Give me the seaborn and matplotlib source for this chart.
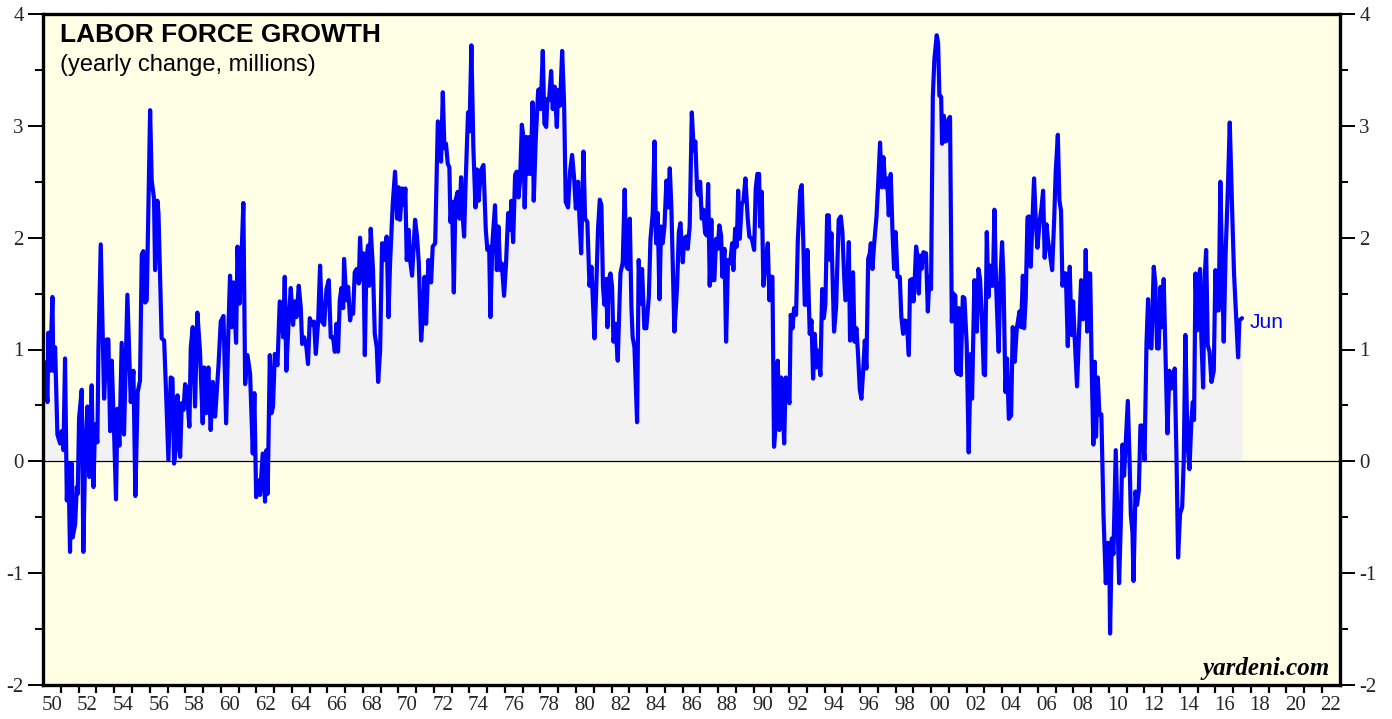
import matplotlib
matplotlib.use("Agg")
import matplotlib.pyplot as plt
import matplotlib.ticker as mticker
import numpy as np
import pandas as pd
import seaborn as sns

# ---- data (decimal year, yearly change in millions) ----
years = [
    1950.05, 1950.24, 1950.29, 1950.39, 1950.52, 1950.57, 1950.67, 1950.80, 1950.95,
    1951.04, 1951.14, 1951.23, 1951.33, 1951.42, 1951.51, 1951.61, 1951.66, 1951.80, 1951.89, 1951.945,
    1952.02, 1952.17, 1952.26, 1952.36, 1952.49, 1952.60, 1952.73, 1952.83, 1952.92,
    1953.05, 1953.11, 1953.24, 1953.43, 1953.58, 1953.67, 1953.77, 1953.86, 1953.99,
    1954.10, 1954.18, 1954.29, 1954.42, 1954.55, 1954.74, 1954.93,
    1955.08, 1955.19, 1955.32, 1955.45, 1955.55, 1955.64, 1955.74, 1955.83,
    1956.02, 1956.11, 1956.24, 1956.30, 1956.43, 1956.49, 1956.67, 1956.81, 1956.92,
    1957.05, 1957.18, 1957.28, 1957.37, 1957.48, 1957.56, 1957.71, 1957.80, 1957.90, 1957.99,
    1958.08, 1958.23, 1958.31, 1958.42, 1958.55, 1958.68, 1958.83, 1958.98,
    1959.06, 1959.17, 1959.30, 1959.43, 1959.55, 1959.68, 1959.87, 1959.997,
    1960.15, 1960.30, 1960.43, 1960.52, 1960.62, 1960.71, 1960.86, 1960.94,
    1961.05, 1961.12, 1961.27, 1961.37, 1961.50, 1961.65, 1961.80, 1961.89, 1961.99,
    1962.12, 1962.21, 1962.36, 1962.49, 1962.57, 1962.64, 1962.76, 1962.85, 1962.94,
    1963.04, 1963.19, 1963.32, 1963.41, 1963.51, 1963.60, 1963.69, 1963.83, 1963.94,
    1964.07, 1964.16, 1964.26, 1964.39, 1964.50, 1964.58, 1964.69, 1964.82, 1964.91,
    1965.01, 1965.14, 1965.25, 1965.35, 1965.48, 1965.59, 1965.70, 1965.82, 1965.95,
    1966.08, 1966.19, 1966.32, 1966.42, 1966.51, 1966.60, 1966.70, 1966.79, 1966.89, 1966.94,
    1967.07, 1967.17, 1967.28, 1967.35, 1967.45, 1967.54, 1967.65, 1967.77, 1967.84, 1967.95,
    1968.03, 1968.11, 1968.20, 1968.29, 1968.35, 1968.44, 1968.57, 1968.67, 1968.78, 1968.86, 1968.97,
    1969.08, 1969.19, 1969.27, 1969.34, 1969.44, 1969.53, 1969.68, 1969.81, 1969.93,
    1970.02, 1970.09, 1970.21, 1970.28, 1970.34, 1970.39, 1970.47, 1970.58, 1970.66, 1970.77, 1970.94,
    1971.05, 1971.15, 1971.28, 1971.37, 1971.47, 1971.56, 1971.69, 1971.84, 1971.93,
    1972.07, 1972.22, 1972.31, 1972.40, 1972.50, 1972.59, 1972.68, 1972.78, 1972.87, 1972.93,
    1973.02, 1973.12, 1973.21, 1973.34, 1973.44, 1973.53, 1973.62, 1973.70, 1973.77, 1973.92,
    1974.00, 1974.11, 1974.22, 1974.34, 1974.43, 1974.52, 1974.64, 1974.79, 1974.92,
    1975.01, 1975.11, 1975.18, 1975.29, 1975.44, 1975.54, 1975.63, 1975.73, 1975.82, 1975.95,
    1976.06, 1976.18, 1976.29, 1976.36, 1976.46, 1976.57, 1976.66, 1976.76, 1976.85, 1976.95,
    1977.04, 1977.11, 1977.21, 1977.30, 1977.38, 1977.45, 1977.55, 1977.62, 1977.73, 1977.87, 1977.96,
    1978.01, 1978.13, 1978.22, 1978.32, 1978.39, 1978.48, 1978.60, 1978.69, 1978.80, 1978.92, 1978.99,
    1979.10, 1979.22, 1979.33, 1979.42, 1979.55, 1979.67, 1979.78, 1979.89, 1979.99,
    1980.12, 1980.17, 1980.29, 1980.42, 1980.51, 1980.64, 1980.76, 1980.87,
    1981.04, 1981.13, 1981.24, 1981.34, 1981.43, 1981.52, 1981.60, 1981.69, 1981.77, 1981.84, 1981.94,
    1982.03, 1982.11, 1982.22, 1982.35, 1982.50, 1982.63, 1982.74, 1982.84, 1982.93,
    1983.03, 1983.12, 1983.19, 1983.29, 1983.44, 1983.53, 1983.63, 1983.72, 1983.85, 1983.96,
    1984.10, 1984.19, 1984.32, 1984.42, 1984.51, 1984.60, 1984.70, 1984.79, 1984.88, 1984.98,
    1985.09, 1985.18, 1985.28, 1985.37, 1985.54, 1985.69, 1985.79, 1985.88,
    1986.01, 1986.10, 1986.20, 1986.29, 1986.40, 1986.52, 1986.63, 1986.72, 1986.82, 1986.91, 1986.99,
    1987.08, 1987.17, 1987.27, 1987.36, 1987.44, 1987.53, 1987.62, 1987.70, 1987.79, 1987.89, 1987.98,
    1988.07, 1988.17, 1988.24, 1988.36, 1988.45, 1988.56, 1988.68, 1988.79, 1988.86, 1988.96,
    1989.05, 1989.13, 1989.22, 1989.33, 1989.43, 1989.54, 1989.67, 1989.76, 1989.90,
    1990.03, 1990.12, 1990.21, 1990.31, 1990.36, 1990.46, 1990.55, 1990.67, 1990.80, 1990.89, 1990.97,
    1991.06, 1991.15, 1991.27, 1991.36, 1991.45, 1991.55, 1991.62, 1991.72, 1991.81, 1991.92,
    1992.02, 1992.09, 1992.19, 1992.28, 1992.39, 1992.49, 1992.62, 1992.71, 1992.80, 1992.88, 1992.95,
    1993.03, 1993.16, 1993.26, 1993.35, 1993.44, 1993.54, 1993.63, 1993.76, 1993.86, 1993.95,
    1994.04, 1994.14, 1994.23, 1994.31, 1994.38, 1994.53, 1994.644, 1994.79, 1994.91,
    1995.00, 1995.10, 1995.17, 1995.26, 1995.36, 1995.43, 1995.51, 1995.60, 1995.68, 1995.79, 1995.88, 1995.98,
    1996.07, 1996.18, 1996.26, 1996.35, 1996.45, 1996.54, 1996.60, 1996.69, 1996.78, 1996.92,
    1997.01, 1997.12, 1997.22, 1997.31, 1997.42, 1997.52, 1997.61, 1997.72, 1997.82, 1997.91,
    1998.00, 1998.10, 1998.23, 1998.32, 1998.42, 1998.51, 1998.62, 1998.74, 1998.81, 1998.92,
    1999.00, 1999.07, 1999.15, 1999.24, 1999.30, 1999.37, 1999.45, 1999.56, 1999.71, 1999.81, 1999.90, 1999.99,
    2000.09, 2000.18, 2000.31, 2000.39, 2000.46, 2000.56, 2000.61, 2000.71, 2000.80, 2000.88, 2000.97,
    2001.06, 2001.16, 2001.25, 2001.36, 2001.40, 2001.50, 2001.55, 2001.66, 2001.78, 2001.87,
    2002.00, 2002.11, 2002.23, 2002.30, 2002.43, 2002.57, 2002.66, 2002.75, 2002.87, 2002.96,
    2003.03, 2003.13, 2003.22, 2003.32, 2003.41, 2003.47, 2003.56, 2003.65, 2003.75, 2003.80, 2003.88, 2003.99,
    2004.07, 2004.18, 2004.27, 2004.37, 2004.50, 2004.59, 2004.70, 2004.82, 2004.97,
    2005.06, 2005.16, 2005.23, 2005.32, 2005.42, 2005.49, 2005.60, 2005.70, 2005.79, 2005.89, 2005.98,
    2006.11, 2006.21, 2006.30, 2006.39, 2006.49, 2006.58, 2006.69, 2006.81, 2006.92,
    2007.01, 2007.13, 2007.22, 2007.31, 2007.39, 2007.48, 2007.58, 2007.69, 2007.80, 2007.90, 2007.99,
    2008.08, 2008.21, 2008.33, 2008.44, 2008.55, 2008.63, 2008.70, 2008.78, 2008.85, 2008.95,
    2009.04, 2009.13, 2009.21, 2009.28, 2009.38, 2009.47, 2009.58, 2009.70, 2009.83, 2009.92,
    2010.02, 2010.07, 2010.17, 2010.26, 2010.39, 2010.49, 2010.58, 2010.67, 2010.77, 2010.86, 2010.95,
    2011.07, 2011.16, 2011.24, 2011.33, 2011.39, 2011.50, 2011.59, 2011.69, 2011.78, 2011.87,
    2012.01, 2012.12, 2012.21, 2012.31, 2012.40, 2012.53, 2012.62, 2012.72, 2012.81, 2012.91,
    2013.00, 2013.09, 2013.19, 2013.30, 2013.41, 2013.51, 2013.60, 2013.71, 2013.81, 2013.90,
    2014.01, 2014.13, 2014.22, 2014.31, 2014.43, 2014.54, 2014.65, 2014.73, 2014.80, 2014.88, 2014.97,
    2015.05, 2015.14, 2015.21, 2015.31, 2015.40, 2015.48, 2015.57, 2015.67, 2015.78, 2015.91,
    2016.00, 2016.10, 2016.19, 2016.28, 2016.38, 2016.47, 2016.57, 2016.70, 2016.81, 2016.94,
    2017.05, 2017.17, 2017.28, 2017.35, 2017.50,
]

labor_force_change = [
    0.89, 0.53, 1.15, 0.81, 1.47, 0.81, 1.02, 0.24, 0.16,
    0.27, 0.10, 0.92, -0.35, -0.02, -0.81, -0.02, -0.68, -0.56, -0.23, -0.29,
    0.39, 0.64, -0.81, 0.04, 0.49, -0.14, 0.68, -0.23, 0.33,
    0.17, 1.00, 1.94, 0.56, 1.09, 1.09, 0.27, 0.90, 0.27,
    -0.34, 0.47, 0.14, 1.06, 0.24, 1.49, 0.53,
    0.81, -0.31, 0.62, 0.72, 1.85, 1.88, 1.42, 1.44,
    3.14, 2.51, 2.35, 1.71, 2.33, 2.22, 1.10, 1.08, 0.61,
    0.01, 0.75, 0.74, -0.02, 0.13, 0.59, 0.04, 0.52, 0.46, 0.69,
    0.65, 0.31, 1.02, 1.20, 0.49, 1.33, 0.98, 0.34,
    0.84, 0.43, 0.84, 0.28, 0.71, 0.40, 0.86, 1.25,
    1.30, 0.34, 1.20, 1.66, 1.20, 1.60, 1.06, 1.92,
    1.41, 1.62, 2.31, 0.69, 0.95, 0.78, 0.07, 0.61, -0.32,
    -0.17, -0.30, 0.07, -0.36, 0.10, -0.29, 0.95, 0.43, 0.49,
    0.96, 0.86, 1.43, 1.41, 1.11, 1.65, 0.81, 1.29, 1.55,
    1.22, 1.43, 1.29, 1.57, 1.38, 1.05, 1.11, 1.02, 0.87,
    1.28, 1.22, 1.25, 0.96, 1.25, 1.75, 1.25, 1.22, 1.54,
    1.62, 1.11, 1.11, 0.98, 1.23, 0.98, 1.44, 1.55, 1.37, 1.81,
    1.44, 1.56, 1.26, 1.34, 1.32, 1.69, 1.72, 1.59, 2.00, 1.62,
    1.86, 0.95, 1.81, 1.93, 1.57, 2.08, 1.71, 1.14, 1.02, 0.71, 0.99,
    1.95, 1.80, 1.95, 2.01, 1.29, 1.77, 2.30, 2.59, 2.17,
    2.45, 2.16, 2.44, 2.42, 2.29, 2.44, 1.80, 2.07, 1.80, 1.66, 2.16,
    2.01, 1.77, 1.08, 1.29, 1.65, 1.23, 1.80, 1.60, 1.92,
    1.95, 3.04, 3.02, 2.68, 3.30, 2.80, 2.84, 2.66, 2.63, 2.14,
    2.32, 1.51, 2.33, 2.41, 2.17, 2.54, 2.19, 2.01, 2.42, 3.12,
    2.95, 3.72, 2.81, 2.27, 2.61, 2.33, 2.60, 2.65, 2.07,
    1.89, 1.92, 1.29, 1.95, 2.29, 1.71, 2.10, 1.71, 1.77, 1.48,
    1.77, 2.22, 2.07, 2.33, 1.96, 2.56, 2.59, 2.36, 2.51, 3.01,
    2.90, 2.27, 2.90, 2.57, 2.90, 2.57, 3.21, 2.33, 2.87, 3.32, 3.33,
    3.15, 3.67, 3.02, 2.99, 3.24, 3.23, 3.49, 3.15, 3.35, 2.99, 3.32,
    3.18, 3.67, 3.20, 2.32, 2.27, 2.60, 2.74, 2.54, 2.26,
    2.50, 2.26, 1.86, 2.77, 2.17, 2.14, 1.57, 1.74,
    1.10, 1.50, 2.08, 2.34, 2.29, 1.56, 1.40, 1.63, 1.20, 1.62, 1.68,
    1.56, 1.07, 1.23, 0.90, 1.68, 1.78, 2.43, 1.74, 1.72,
    2.17, 1.38, 1.11, 1.02, 0.35, 1.80, 1.41, 1.72, 1.19, 1.19,
    1.47, 1.98, 2.22, 2.86, 1.95, 2.22, 1.45, 2.10, 1.95, 2.10,
    2.51, 2.27, 2.62, 2.27, 1.16, 1.56, 2.05, 2.13,
    1.78, 1.99, 2.01, 1.90, 2.10, 3.12, 2.78, 2.86, 2.42, 2.38, 2.50,
    2.17, 2.25, 2.04, 2.02, 2.48, 1.57, 2.16, 1.62, 1.62, 1.99, 1.90,
    2.11, 2.02, 1.65, 1.90, 1.07, 1.80, 1.77, 1.95, 1.71, 2.08,
    1.92, 2.42, 1.99, 2.30, 2.33, 2.53, 2.17, 2.01, 1.99,
    1.89, 2.44, 2.57, 2.57, 2.10, 2.41, 1.57, 1.78, 1.95, 1.44, 1.65,
    1.65, 0.13, 0.38, 0.90, 0.28, 0.75, 0.64, 0.16, 0.75, 0.61,
    0.52, 1.31, 1.19, 1.37, 1.31, 1.98, 2.42, 2.47, 1.95, 1.40, 1.40,
    1.89, 1.14, 1.26, 0.74, 1.14, 0.84, 0.99, 0.77, 1.54, 1.28,
    1.40, 2.20, 2.20, 1.80, 2.04, 1.16, 1.38, 2.16, 2.19,
    2.05, 1.65, 1.44, 1.46, 1.96, 1.08, 1.68, 1.69, 1.07, 1.19, 0.96, 0.64,
    0.56, 0.84, 1.08, 0.83, 1.81, 1.86, 1.95, 1.72, 1.93, 2.19,
    2.47, 2.85, 2.45, 2.72, 2.45, 2.53, 2.20, 2.57, 2.05, 1.72,
    2.05, 1.65, 1.65, 1.29, 1.14, 1.26, 1.25, 0.95, 1.62, 1.63,
    1.43, 1.62, 1.92, 1.81, 1.50, 1.84, 1.72, 1.87, 1.86, 1.34, 1.65, 1.54,
    3.26, 3.60, 3.81, 3.74, 3.27, 3.26, 2.84, 3.09, 2.86, 2.87, 3.06,
    3.08, 1.25, 1.50, 1.48, 0.81, 0.78, 1.37, 0.77, 1.47, 1.46,
    1.04, 0.08, 0.96, 0.56, 1.62, 1.16, 1.72, 1.63, 1.22, 0.78,
    0.77, 2.05, 1.47, 1.75, 1.57, 1.57, 2.25, 1.60, 1.16, 0.98, 1.57, 1.96,
    1.63, 0.62, 0.92, 0.38, 0.41, 1.20, 0.89, 1.19, 1.34,
    1.20, 1.66, 1.19, 1.45, 2.18, 2.19, 1.74, 2.15, 2.53, 2.15, 1.91,
    2.15, 2.27, 2.42, 1.82, 2.12, 1.97, 1.85, 1.71, 2.15,
    2.59, 2.92, 2.33, 2.24, 1.57, 1.68, 1.68, 1.03, 1.74, 1.13, 1.43,
    1.10, 0.67, 1.18, 1.62, 1.27, 1.30, 1.89, 1.16, 1.68, 1.68,
    0.81, 0.15, 0.89, 0.22, 0.75, 0.42, 0.42, -0.48, -1.09, -0.73,
    -0.73, -1.54, -0.69, -0.83, 0.10, -0.54, -1.09, -0.58, 0.15, -0.13, 0.15,
    0.54, 0.06, -0.48, -0.63, -1.07, -0.27, -0.39, -0.26, 0.32, 0.32,
    0.01, 1.05, 1.45, 1.02, 1.01, 1.74, 1.59, 1.01, 1.01, 1.56,
    1.20, 1.63, 0.98, 0.25, 0.81, 0.65, 0.69, 0.83, 0.04, -0.86,
    -0.47, -0.41, 0.01, 1.13, 0.16, -0.07, 0.37, 0.53, 0.37, 1.68, 1.17,
    1.62, 1.72, 1.11, 0.66, 1.65, 1.89, 1.04, 0.98, 0.71, 0.81,
    1.71, 1.35, 1.35, 2.50, 1.72, 1.07, 1.83, 2.42, 3.03, 2.27,
    1.68, 1.29, 0.93, 1.26, 1.28,
]

label_years = list(range(1950, 2023, 2))
tick_labels = [f"{y % 100:02d}" for y in label_years]
y_ticks = [-2, -1, 0, 1, 2, 3, 4]
title_text = "LABOR FORCE GROWTH"
subtitle_text = "(yearly change, millions)"
last_label = "Jun"
source_text = "yardeni.com"

df = pd.DataFrame({"year": years, "change": labor_force_change})

# ---- styling ----
sns.set_theme(style="white")
plt.rcParams["font.family"] = ["Liberation Sans", "DejaVu Sans"]

BLUE = "#0000FF"
BG = "#FFFFE6"
FILL = "#F2F2F2"

fig = plt.figure(figsize=(13.92, 7.19), dpi=100)
fig.patch.set_facecolor("white")
ax = fig.add_axes([43.2 / 1392, 1 - 685 / 719, 1296.5 / 1392, 671 / 719])
ax.set_facecolor(BG)

ax.fill_between(df["year"], 0, df["change"], color=FILL, linewidth=0, zorder=1)
ax.axhline(0, color="black", lw=0.9, zorder=2)
sns.lineplot(data=df, x="year", y="change", ax=ax, color=BLUE, linewidth=3.0,
             zorder=3, solid_joinstyle="round", solid_capstyle="round",
             estimator=None, sort=False)

ax.set_xlim(1950, 2023)
ax.set_ylim(-2, 4)
ax.set_xlabel("")
ax.set_ylabel("")

# x axis: labels centred on each even year, ticks at year boundaries
ax.set_xticks([y + 0.5 for y in label_years])
ax.set_xticklabels(tick_labels, family="Liberation Serif", fontsize=15)
ax.xaxis.set_minor_locator(mticker.FixedLocator(list(range(1951, 2023))))
ax.tick_params(axis="x", which="major", length=0, pad=8)
ax.tick_params(axis="x", which="minor", bottom=True, direction="out",
               length=6, width=1.6, color="black")

# y axis: both sides
ax.set_yticks(y_ticks)
ax.set_yticklabels([str(v) for v in y_ticks], family="Liberation Serif", fontsize=15)
ax.yaxis.set_minor_locator(mticker.MultipleLocator(0.5))
ax.tick_params(axis="y", which="major", left=True, right=True, labelleft=True,
               labelright=True, direction="out", length=11, width=1.4,
               color="black", pad=3)
ax.tick_params(axis="y", which="minor", left=True, right=True, direction="out",
               length=6, width=1.4, color="black")

for sp in ax.spines.values():
    sp.set_color("black")
    sp.set_linewidth(2.4)
    sp.set_zorder(5)

# texts
ax.text(0.013, 0.969, title_text, transform=ax.transAxes, fontsize=19,
        fontweight="bold", ha="left", va="center", color="black")
ax.text(0.013, 0.924, subtitle_text, transform=ax.transAxes, fontsize=17,
        ha="left", va="center", color="black")
ax.text(years[-1] + 0.45, 1.24, last_label, fontsize=15, color=BLUE,
        ha="left", va="center")
ax.text(0.9925, 0.024, source_text, transform=ax.transAxes, fontsize=18,
        family="Liberation Serif", fontweight="bold", fontstyle="italic",
        ha="right", va="center", color="black")

fig.savefig("out.png", dpi=100, facecolor="white")
